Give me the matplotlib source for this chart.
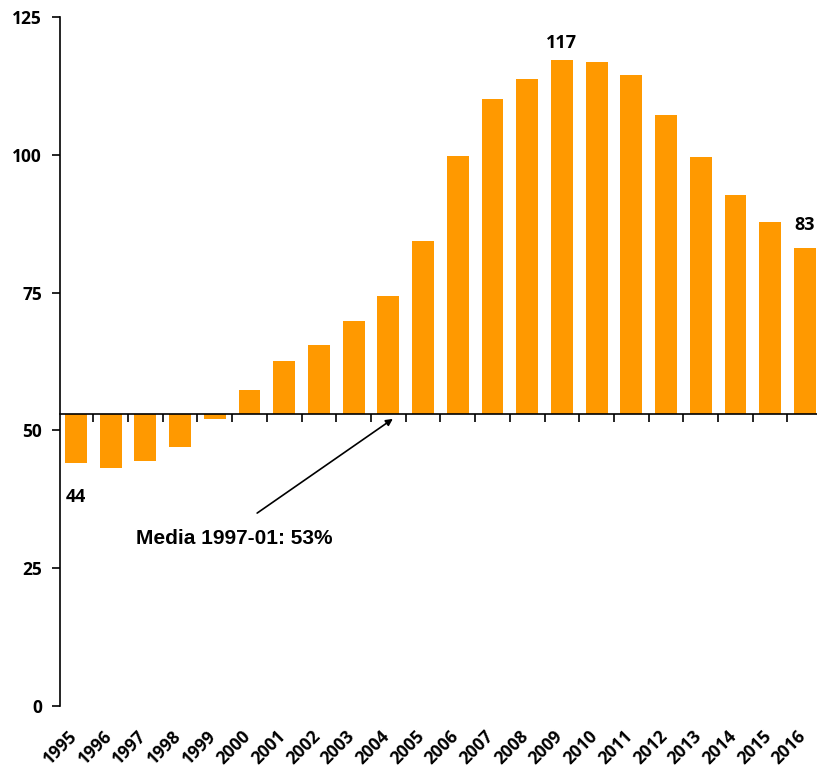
import numpy as np
import matplotlib.pyplot as plt
import matplotlib.transforms as mtransforms

# data
years = [str(y) for y in range(1995, 2017)]
values = [44.0, 43.2, 44.4, 47.0, 52.1, 57.3, 62.6, 65.5, 69.8, 74.4, 84.4,
          99.8, 110.1, 113.8, 117.2, 116.8, 114.5, 107.2, 99.6, 92.7, 87.8, 83.1]
average = 53
yticks = [0, 25, 50, 75, 100, 125]

tick_font = 'Open Sans'
bar_color = '#FF9900'

fig = plt.figure(figsize=(8.17, 7.71), dpi=100)
ax = fig.add_axes([60 / 817, 65 / 771, 757 / 817, 689 / 771])

x = np.arange(len(years))
vals = np.array(values)
ax.bar(x, vals - average, bottom=average, width=0.63, color=bar_color, zorder=2)

ax.set_xlim(-0.46, len(years) - 0.65)
ax.set_ylim(0, 125)

# axis through the average line
for s in ['top', 'right']:
    ax.spines[s].set_visible(False)
ax.spines['bottom'].set_position(('data', average))
ax.spines['bottom'].set_linewidth(1.2)
ax.spines['left'].set_linewidth(1.2)
ax.set_xticks(x[:-1] + 0.5)
ax.set_xticklabels([])
ax.tick_params(axis='x', direction='out', length=6, width=1.2)
ax.set_yticks(yticks)
ax.set_yticklabels([str(t) for t in yticks], fontfamily=tick_font,
                   fontweight='bold', fontsize=12.5)
ax.tick_params(axis='y', direction='out', length=6, width=1.2, pad=7)

# year labels under the plot
trans = mtransforms.blended_transform_factory(ax.transData, ax.transAxes)
for xi, yr in zip(x, years):
    ax.text(xi - 0.05, -0.04, yr, transform=trans, rotation=45, ha='right', va='center',
            rotation_mode='anchor', fontfamily=tick_font, fontweight='bold', fontsize=12.5)

# value labels
ax.text(x[0], values[0] - 4.5, '44', ha='center', va='top', fontfamily=tick_font,
        fontweight='bold', fontsize=13)
ax.text(x[14], values[14] + 1.5, '117', ha='center', va='bottom', fontfamily=tick_font,
        fontweight='bold', fontsize=13)
ax.text(x[21], values[21] + 2.5, '83', ha='center', va='bottom', fontfamily=tick_font,
        fontweight='bold', fontsize=13)

# annotation for the average
ax.text(4.57, 30.4, 'Media 1997-01: 53%', ha='center', va='center',
        fontfamily='Liberation Sans', fontweight='bold', fontsize=15)
ax.annotate('', xy=(9.13, average - 0.9), xytext=(5.22, 35.0),
            arrowprops=dict(arrowstyle='-|>', color='black', lw=1.2,
                            shrinkA=0, shrinkB=0, mutation_scale=10))

fig.savefig('out.png', dpi=100)
